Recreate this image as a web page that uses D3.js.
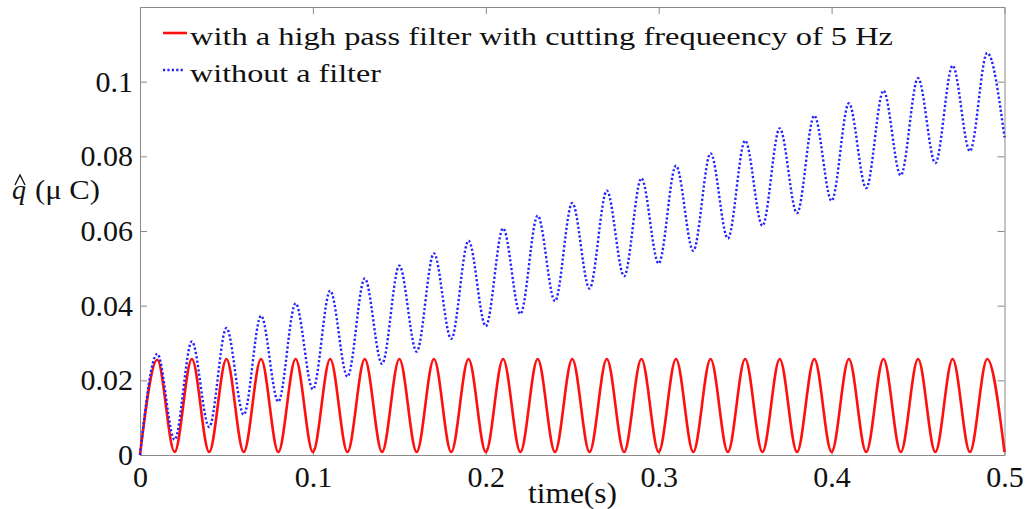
<!DOCTYPE html>
<html>
<head>
<meta charset="utf-8">
<script src="https://cdn.jsdelivr.net/npm/d3@7"></script>
<style>
  body { margin: 0; background: #fff; }
  svg { display: block; }
  text { font-family: "Liberation Serif", "Times New Roman", Times, "Nimbus Roman", "FreeSerif", serif; }
  .axis path, .axis line { stroke: #8a8a8a; }
</style>
</head>
<body>
<svg id="chart"></svg>
<script>
// time samples (s), read at every extreme of the oscillation
const timeValues = [0, 0.01, 0.02, 0.03, 0.04, 0.05, 0.06, 0.07, 0.08, 0.09,
  0.10, 0.11, 0.12, 0.13, 0.14, 0.15, 0.16, 0.17, 0.18, 0.19,
  0.20, 0.21, 0.22, 0.23, 0.24, 0.25, 0.26, 0.27, 0.28, 0.29,
  0.30, 0.31, 0.32, 0.33, 0.34, 0.35, 0.36, 0.37, 0.38, 0.39,
  0.40, 0.41, 0.42, 0.43, 0.44, 0.45, 0.46, 0.47, 0.48, 0.49, 0.50];

// with a high pass filter (red)
const filteredQ = [0, 0.0255, 0.0008, 0.0257, 0.0008, 0.0257, 0.0008, 0.0257, 0.0008, 0.0257,
  0.0008, 0.0257, 0.0008, 0.0257, 0.0008, 0.0257, 0.0008, 0.0257, 0.0008, 0.0257,
  0.0008, 0.0257, 0.0008, 0.0257, 0.0008, 0.0257, 0.0008, 0.0257, 0.0008, 0.0257,
  0.0008, 0.0257, 0.0008, 0.0257, 0.0008, 0.0257, 0.0008, 0.0257, 0.0008, 0.0257,
  0.0008, 0.0257, 0.0008, 0.0257, 0.0008, 0.0257, 0.0008, 0.0257, 0.0008, 0.0257, 0.0008];

// without a filter (blue dotted)
const unfilteredQ = [0, 0.0271, 0.0041, 0.0304, 0.0075, 0.0340, 0.0108, 0.0373, 0.0143, 0.0406,
  0.0176, 0.0440, 0.0210, 0.0473, 0.0244, 0.0507, 0.0277, 0.0540, 0.0311, 0.0574,
  0.0345, 0.0607, 0.0378, 0.0641, 0.0412, 0.0675, 0.0446, 0.0708, 0.0479, 0.0741,
  0.0513, 0.0775, 0.0547, 0.0808, 0.0580, 0.0842, 0.0614, 0.0875, 0.0648, 0.0909,
  0.0681, 0.0942, 0.0715, 0.0976, 0.0749, 0.1009, 0.0782, 0.1043, 0.0814, 0.1077, 0.0851];

const xTicks = [0, 0.1, 0.2, 0.3, 0.4, 0.5];
const xTickLabels = ['0', '0.1', '0.2', '0.3', '0.4', '0.5'];
const yTicks = [0, 0.02, 0.04, 0.06, 0.08, 0.1];
const yTickLabels = ['0', '0.02', '0.04', '0.06', '0.08', '0.1'];
const legendLabels = ['with a high pass filter with cutting frequeency of 5 Hz', 'without a filter'];

const width = 1031, height = 509;
const margin = { top: 7, right: 26.5, bottom: 54, left: 140 };
const innerW = width - margin.left - margin.right;
const innerH = height - margin.top - margin.bottom;
const serif = '"Liberation Serif", "Times New Roman", Times, "Nimbus Roman", FreeSerif, serif';

const svg = d3.select('#chart').attr('width', width).attr('height', height);
const chart = svg.append('g').attr('transform', `translate(${margin.left},${margin.top})`);

const xScale = d3.scaleLinear().domain([0, 0.5]).range([0, innerW]);
const yScale = d3.scaleLinear().domain([0, 0.12]).range([innerH, 0]);

// axes with inward ticks on all four sides (box style)
chart.append('g').attr('class', 'axis')
  .attr('transform', `translate(0,${innerH})`)
  .call(d3.axisBottom(xScale).tickValues(xTicks).tickSizeInner(-7).tickSizeOuter(0)
    .tickPadding(11).tickFormat((d, i) => xTickLabels[i]));
chart.append('g').attr('class', 'axis')
  .call(d3.axisTop(xScale).tickValues(xTicks).tickSizeInner(-7).tickSizeOuter(0).tickFormat(''));
chart.append('g').attr('class', 'axis')
  .call(d3.axisLeft(yScale).tickValues(yTicks).tickSizeInner(-7).tickSizeOuter(0)
    .tickPadding(7).tickFormat((d, i) => yTickLabels[i]));
chart.append('g').attr('class', 'axis')
  .attr('transform', `translate(${innerW},0)`)
  .call(d3.axisRight(yScale).tickValues(yTicks).tickSizeInner(-7).tickSizeOuter(0).tickFormat(''));

chart.selectAll('.axis').attr('font-family', serif);
chart.selectAll('.axis text')
  .attr('font-size', 30)
  .attr('fill', '#111');

const line = (vals) => d3.line()
  .x((d, i) => xScale(timeValues[i]))
  .y(d => yScale(d))
  .curve(d3.curveMonotoneX)(vals);

chart.append('path')
  .attr('d', line(filteredQ))
  .attr('fill', 'none')
  .attr('stroke', '#ff1010')
  .attr('stroke-width', 2.6);

chart.append('path')
  .attr('d', line(unfilteredQ))
  .attr('fill', 'none')
  .attr('stroke', '#2222ff')
  .attr('stroke-width', 2.4)
  .attr('stroke-dasharray', '2.2,2.2');

// legend
const legend = svg.append('g').attr('font-family', serif);
legend.append('line')
  .attr('x1', 163).attr('x2', 187).attr('y1', 33).attr('y2', 33)
  .attr('stroke', '#ff1010').attr('stroke-width', 2.6);
legend.append('line')
  .attr('x1', 163).attr('x2', 185).attr('y1', 70).attr('y2', 70)
  .attr('stroke', '#2222ff').attr('stroke-width', 2.4).attr('stroke-dasharray', '2.2,2.2');
legend.append('text')
  .attr('x', 190).attr('y', 44.5)
  .attr('font-size', 25).attr('fill', '#111')
  .attr('textLength', 703).attr('lengthAdjust', 'spacingAndGlyphs')
  .text(legendLabels[0]);
legend.append('text')
  .attr('x', 190).attr('y', 82)
  .attr('font-size', 25).attr('fill', '#111')
  .attr('textLength', 191).attr('lengthAdjust', 'spacingAndGlyphs')
  .text(legendLabels[1]);

// axis titles
svg.append('text')
  .attr('x', 528).attr('y', 503)
  .attr('font-family', serif)
  .attr('font-size', 30).attr('fill', '#111')
  .attr('textLength', 89).attr('lengthAdjust', 'spacingAndGlyphs')
  .text('time(s)');

const yTitle = svg.append('g').attr('font-family', serif);
yTitle.append('text')
  .attr('x', 12).attr('y', 199)
  .attr('font-size', 28).attr('font-style', 'italic').attr('fill', '#111')
  .text('q');
// hat over q
yTitle.append('path')
  .attr('d', 'M15,185 L20,175 L25,185')
  .attr('fill', 'none').attr('stroke', '#111').attr('stroke-width', 1.3);
yTitle.append('text')
  .attr('x', 35).attr('y', 199)
  .attr('font-size', 28).attr('fill', '#111')
  .attr('textLength', 65).attr('lengthAdjust', 'spacingAndGlyphs')
  .text('(μ C)');
</script>
</body>
</html>
